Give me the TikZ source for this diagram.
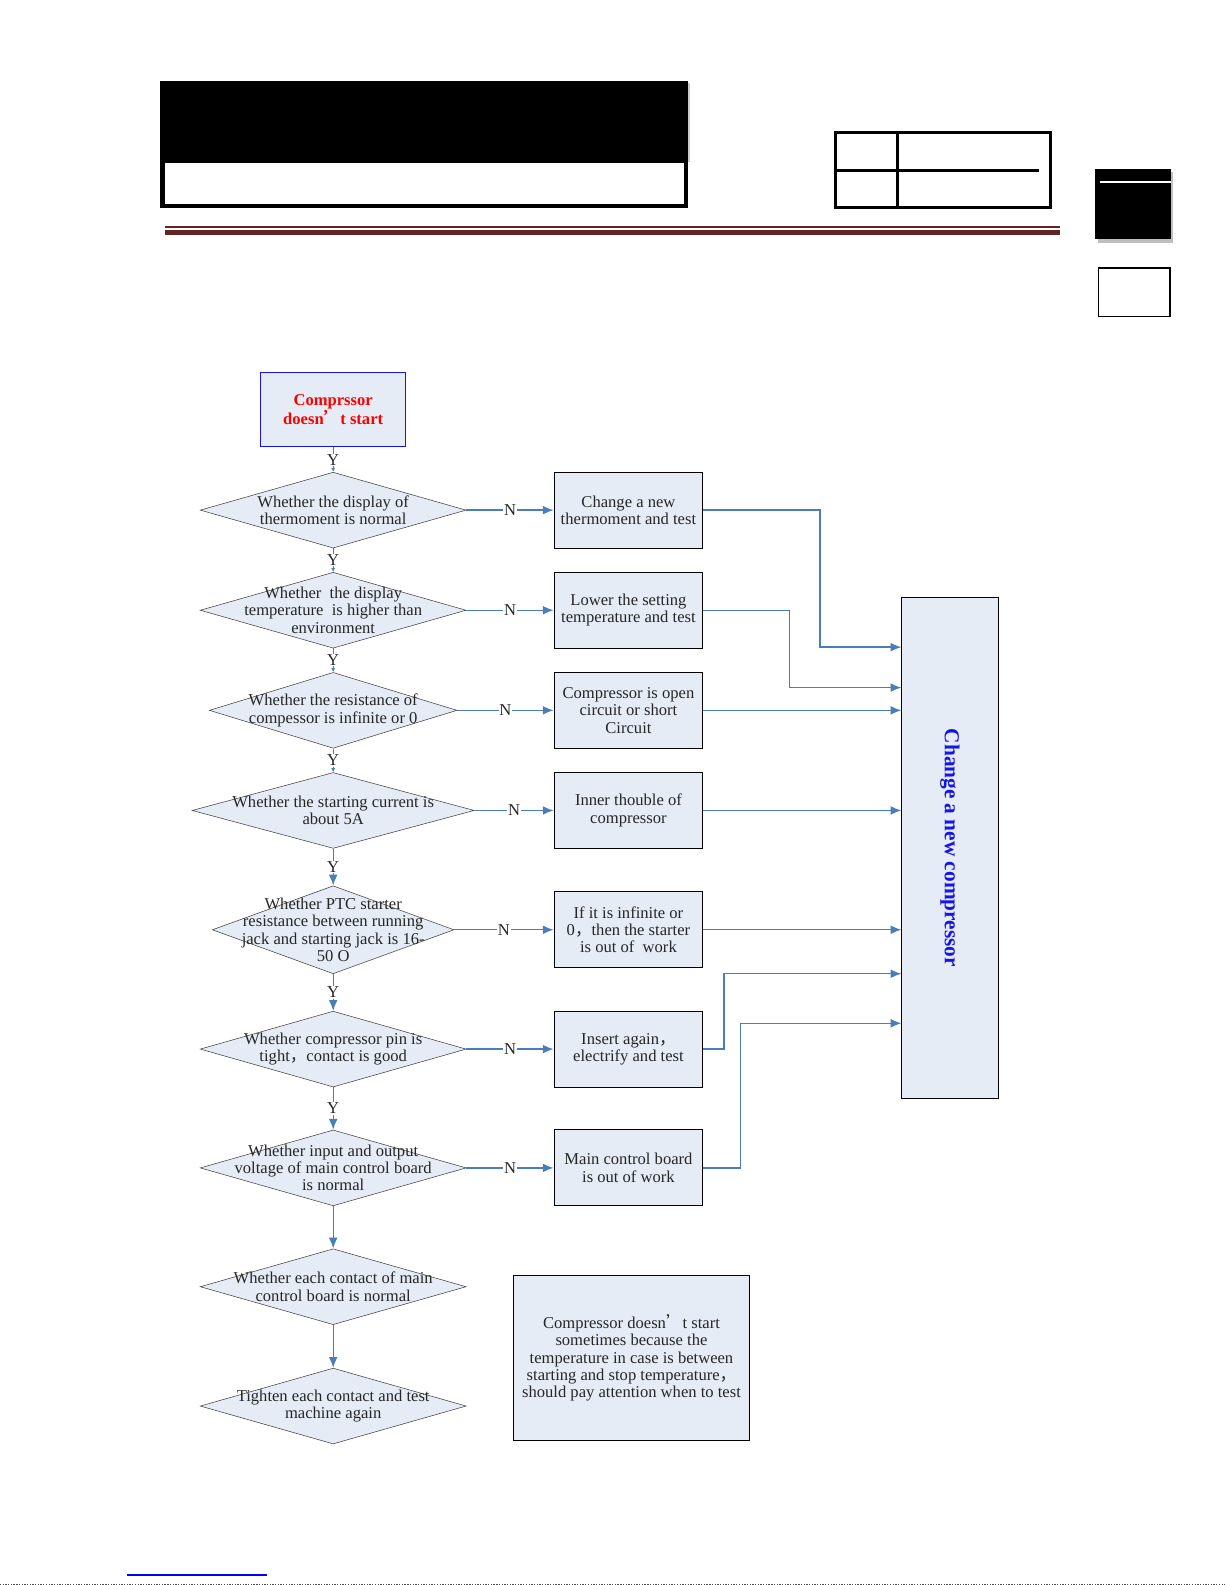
\documentclass[tikz,border=0pt]{standalone}
\usepackage{fontspec}
\setmainfont{Liberation Serif}
\newfontfamily\cjk{Noto Sans CJK SC}
\usetikzlibrary{arrows.meta,shapes.geometric,positioning}
\definecolor{flowfill}{RGB}{230,236,246}
\definecolor{flowblue}{RGB}{74,126,187}
\definecolor{rulered}{RGB}{99,37,35}
\definecolor{titleblue}{RGB}{20,20,235}
\newcommand{\fw}[1]{{\cjk #1}}
\tikzset{
	decision/.style={
		diamond, draw=black!75, thin, fill=flowfill,
		minimum width=197.25pt, minimum height=56.25pt, inner sep=0pt
	},
	%
	dtext/.style={
		align=center, inner sep=0pt, text=black!85,
		font=\fontsize{12.3}{12.8}\selectfont
	},
	%
	action/.style={
		rectangle, draw=black, line width=0.75pt, fill=flowfill,
		minimum width=110.25pt, minimum height=56.25pt, inner sep=0pt,
		align=center, text=black!85, font=\fontsize{12.3}{12.8}\selectfont
	},
	%
	flowline/.style={
		draw=flowblue, line width=1pt, -{Latex[length=8pt,width=6.5pt]}
	},
	%
	shortflow/.style={
		draw=flowblue, line width=0.8pt, -{Latex[length=3pt,width=3pt]}
	},
	%
	answer/.style={
		fill=white, inner sep=0.5pt, text=black!85,
		font=\fontsize{12.3}{12.8}\selectfont
	}
}
\begin{document}
\begin{tikzpicture}[x=0.75pt,y=-0.75pt]
\useasboundingbox (0,0) rectangle (1211.5,1567.5);

%header
\fill[black] (158,80) rectangle (680,206);
\fill[white] (163,161) rectangle (676,202);
\fill[black!20] (680,82) rectangle (682,160);
\draw[rulered, line width=1pt] (163,224.5) -- (1048,224.5);
\fill[rulered] (163,227) rectangle (1048,232);

\draw[line width=2.25pt] (826,131) rectangle (1039,205);
\draw[line width=2.25pt] (888,131) -- (888,205);
\draw[line width=2.25pt] (826,169) -- (1028,169);

\fill[black!25] (1086,170) rectangle (1160,240);
\fill[black] (1083,167) rectangle (1158,236);
\draw[white, line width=1pt] (1088,180) -- (1158,180);
\draw[line width=0.9pt] (1086,265) rectangle (1157,313);

%flow
\node (start) [rectangle, draw=titleblue, line width=0.75pt, fill=flowfill,
	minimum width=107.25pt, minimum height=55.5pt, align=center,
	text=red, font=\bfseries\fontsize{12.3}{12.8}\selectfont] at (329.5,405)
	{Comprssor\\doesn\fw{’}t start};

\node (d1) [decision, label={[dtext]center:{Whether the display of\\thermoment is normal}}] at (329.5,504.5) {};
\node (d2) [decision, label={[dtext]center:{Whether\ \ the display\\temperature\ \ is higher than\\environment}}] at (329.5,603.5) {};
\node (d3) [decision, minimum width=183.75pt, label={[dtext]center:{Whether the resistance of\\compessor is infinite or 0}}] at (329.5,702.5) {};
\node (d4) [decision, minimum width=209.25pt, label={[dtext]center:{Whether the starting current is\\about 5A}}] at (329.5,801.5) {};
\node (d5) [decision, minimum width=179.25pt, minimum height=65.25pt, label={[dtext]center:{Whether PTC starter\\resistance between running\\jack and starting jack is 16-\\50 O}}] at (329.5,919.5) {};
\node (d6) [decision, label={[dtext]center:{Whether compressor pin is\\tight\fw{，}contact is good}}] at (329.5,1037.5) {};
\node (d7) [decision, label={[dtext]center:{Whether input and output\\voltage of main control board\\is normal}}] at (329.5,1155) {};
\node (d8) [decision, label={[dtext]center:{Whether each contact of main\\control board is normal}}] at (329.5,1272.5) {};
\node (d9) [decision, label={[dtext]center:{Tighten each contact and test\\machine again}}] at (329.5,1390.5) {};

\node (b1) [action] at (621.5,504.5) {Change a new\\thermoment and test};
\node (b2) [action] at (621.5,603.5) {Lower the setting\\temperature and test};
\node (b3) [action] at (621.5,702.5) {Compressor is open\\circuit or short\\Circuit};
\node (b4) [action] at (621.5,801.5) {Inner thouble of\\compressor};
\node (b5) [action] at (621.5,919.5) {If it is infinite or\\0\fw{，}then the starter\\is out of\ \ work};
\node (b6) [action] at (621.5,1037.5) {Insert again\fw{，}\\electrify and test};
\node (b7) [action] at (621.5,1155) {Main control board\\is out of work};

\node (note) [action, minimum width=174.75pt, minimum height=123pt] at (624.5,1343)
	{Compressor doesn\fw{’}t start\\sometimes because the\\temperature in case is between\\starting and stop temperature\fw{，}\\should pay attention when to test};

\node (big) [action, minimum width=71.25pt, minimum height=371.25pt,
	label={[rotate=-90, text=titleblue, font=\bfseries\fontsize{15.8}{16}\selectfont]center:Change a new compressor}]
	at (939.5,838.5) {};

%yes arrows
\draw[shortflow] (start) -- node[answer] {Y} (d1);
\draw[shortflow] (d1) -- node[answer] {Y} (d2);
\draw[shortflow] (d2) -- node[answer] {Y} (d3);
\draw[shortflow] (d3) -- node[answer] {Y} (d4);
\draw[flowline] (d4) -- node[answer] {Y} (d5);
\draw[flowline] (d5) -- node[answer] {Y} (d6);
\draw[flowline] (d6) -- node[answer] {Y} (d7);
\draw[flowline] (d7) -- (d8);
\draw[flowline] (d8) -- (d9);

%no arrows
\foreach \i in {1,...,7}
	\draw[flowline] (d\i.east) -- node[answer] {N} (b\i.west);

%to compressor
\coordinate (k1) at (811,640);
\coordinate (k2) at (781,680);
\coordinate (k6) at (716,963);
\coordinate (k7) at (732,1012);
\draw[flowline] (b1.east) -| (k1) -- (k1 -| big.west);
\draw[flowline] (b2.east) -| (k2) -- (k2 -| big.west);
\draw[flowline] (b3.east) -- (b3.east -| big.west);
\draw[flowline] (b4.east) -- (b4.east -| big.west);
\draw[flowline] (b5.east) -- (b5.east -| big.west);
\draw[flowline] (b6.east) -| (k6) -- (k6 -| big.west);
\draw[flowline] (b7.east) -| (k7) -- (k7 -| big.west);

%footer
\draw[blue, line width=0.9pt] (126,1557.5) -- (264,1557.5);
\draw[black!70, dash pattern=on 1pt off 1pt, line width=0.8pt] (0,1566.6) -- (1211.5,1566.6);
\end{tikzpicture}
\end{document}
